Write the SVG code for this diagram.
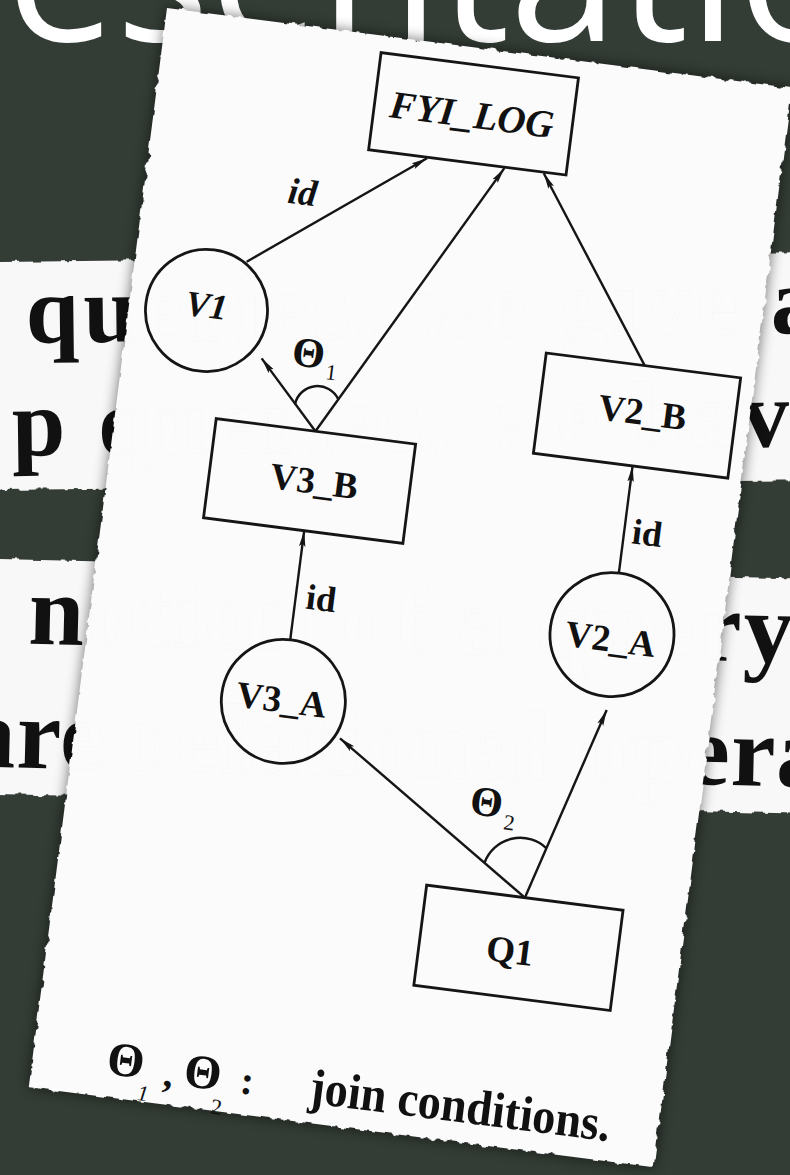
<svg xmlns="http://www.w3.org/2000/svg" width="790" height="1175" viewBox="0 0 790 1175">
  <defs>
    <style>
      .bg{fill:#333c35}
      .head{font-family:"Open Sans",sans-serif;font-size:196px;fill:#ffffff}
      .strip{fill:#f8f8f8}
      .stxt{font-family:"Liberation Serif",serif;font-weight:bold}
      .paper{fill:#fbfbfb}
      .box{fill:none;stroke:#151515;stroke-width:2.8}
      .edge{fill:none;stroke:#151515;stroke-width:2.4;marker-end:url(#ah)}
      .lbl{font-family:"Liberation Serif",serif;font-weight:bold;font-size:37px;fill:#111;text-anchor:middle}
      .it{font-style:italic}
      .greek{font-family:"Liberation Serif",serif;fill:#111;text-anchor:middle}
      .ghost{fill:none;stroke:#000;stroke-opacity:0.012;stroke-width:1.2}
    </style>
    <filter id="torn" x="-3%" y="-3%" width="106%" height="106%">
      <feTurbulence type="fractalNoise" baseFrequency="0.09" numOctaves="2" seed="7" result="noise"/>
      <feDisplacementMap in="SourceGraphic" in2="noise" scale="7" xChannelSelector="R" yChannelSelector="G"/>
    </filter>
    <filter id="shadow" x="-10%" y="-10%" width="120%" height="120%">
      <feGaussianBlur stdDeviation="7"/>
    </filter>
    <marker id="ah" markerUnits="userSpaceOnUse" markerWidth="18" markerHeight="10" refX="16" refY="4" orient="auto">
      <path d="M0,0.8 L16,4 L0,7.2 L3,4 Z" fill="#151515"/>
    </marker>
    <!-- text lines printed on the strips behind the sheet -->
    <text id="line1" class="stxt" x="25" y="81" font-size="96" textLength="793" lengthAdjust="spacing">queries, we give a</text>
    <text id="line2" class="stxt" x="10" y="194" font-size="96" textLength="824" lengthAdjust="spacing">p queries, we have</text>
    <text id="line3" class="stxt" x="30" y="84" font-size="100" textLength="765" lengthAdjust="spacing">notion of a query</text>
    <text id="line4" class="stxt" x="-30" y="208" font-size="100" textLength="1032" lengthAdjust="spacing">are relational operators</text>
  </defs>

  <rect class="bg" x="0" y="0" width="790" height="1175"/>

  <!-- heading, cropped at the top -->
  <text class="head" x="6" y="41">esentatio</text>

  <!-- upper strip -->
  <g id="strip-upper" transform="translate(0,262) rotate(-0.7)">
    <rect class="strip" x="-20" y="0" width="830" height="228" filter="url(#torn)"/>
    <use href="#line1" fill="#111"/>
    <use href="#line2" fill="#111"/>
  </g>

  <!-- lower strip -->
  <g id="strip-lower" transform="translate(0,559) rotate(1.4)">
    <rect class="strip" x="-20" y="0" width="830" height="235" filter="url(#torn)"/>
    <use href="#line3" fill="#111"/>
    <use href="#line4" fill="#111"/>
  </g>

  <!-- the sheet with the query graph -->
  <g id="sheet" transform="translate(167,8) rotate(7.3)">
    <rect x="0" y="0" width="630" height="1088" fill="#000" opacity="0.55" filter="url(#shadow)"/>
    <rect class="paper" x="0" y="0" width="630" height="1088" filter="url(#torn)"/>
  </g>

  <!-- faint show-through of the strip text -->
  <g id="show-through">
    <g transform="translate(0,262) rotate(-0.7)">
      <use href="#line1" class="ghost"/>
      <use href="#line2" class="ghost"/>
    </g>
    <g transform="translate(0,559) rotate(1.4)">
      <use href="#line3" class="ghost"/>
      <use href="#line4" class="ghost"/>
    </g>
  </g>

  <g id="diagram" transform="translate(167,8) rotate(7.3)">
    <g id="connectors">
      <line class="edge" x1="111.3" y1="241.5" x2="277" y2="116"/>
      <line class="edge" x1="201" y1="401" x2="355" y2="116"/>
      <line class="edge" x1="201" y1="401" x2="138.4" y2="335.5"/>
      <line class="edge" x1="519.3" y1="294" x2="394.7" y2="116"/>
      <line class="edge" x1="520" y1="503" x2="520" y2="395"/>
      <line class="edge" x1="202.5" y1="611" x2="202.5" y2="501"/>
      <line class="edge" x1="468" y1="837" x2="264.4" y2="702.4"/>
      <line class="edge" x1="468" y1="837" x2="525.3" y2="640.4"/>
      <!-- join-condition arcs -->
      <path d="M177.3,376.7 A23,23 0 0,1 219.6,366.3" fill="none" stroke="#151515" stroke-width="2.4"/>
      <path d="M423.7,806.9 A38,38 0 0,1 482.9,785.1" fill="none" stroke="#151515" stroke-width="2.4"/>
      <!-- edge labels -->
      <text class="lbl it" x="158" y="178" font-size="36">id</text>
      <text class="lbl" x="228" y="578" style="font-size:36px">id</text>
      <text class="lbl" x="543" y="472" style="font-size:36px">id</text>
      <text class="greek" x="184.5" y="338" font-size="42" font-weight="bold">Θ</text>
      <text class="greek" x="209" y="348" font-size="22">1</text>
      <text class="greek" x="418" y="761" font-size="42" font-weight="bold">Θ</text>
      <text class="greek" x="443" y="772" font-size="22">2</text>
    </g>

    <g id="node-fyi-log">
      <rect class="box" x="218" y="17" width="199" height="98"/>
      <text class="lbl it" x="316" y="80" style="font-size:39px">FYI_LOG</text>
    </g>
    <g id="node-v1">
      <circle class="box" cx="77.6" cy="295" r="61"/>
      <text class="lbl it" x="77" y="302" style="font-size:36px">V1</text>
    </g>
    <g id="node-v3-b">
      <rect class="box" x="101" y="401" width="201" height="100"/>
      <text class="lbl" x="206" y="463">V3_B</text>
    </g>
    <g id="node-v2-b">
      <rect class="box" x="420" y="294" width="196" height="101"/>
      <text class="lbl" x="523" y="353">V2_B</text>
    </g>
    <g id="node-v3-a">
      <circle class="box" cx="203.5" cy="673" r="62"/>
      <text class="lbl" x="201.5" y="684">V3_A</text>
    </g>
    <g id="node-v2-a">
      <circle class="box" cx="521" cy="565" r="62"/>
      <text class="lbl" x="520" y="582">V2_A</text>
    </g>
    <g id="node-q1">
      <rect class="box" x="369" y="837" width="198" height="101"/>
      <text class="lbl" x="460" y="904">Q1</text>
    </g>

    <g id="caption">
      <text class="greek" x="93" y="1065" font-size="48" font-weight="bold">Θ</text>
      <text class="greek it" x="114" y="1087" font-size="22">1</text>
      <text class="greek" x="137" y="1070" font-size="40" font-weight="bold">,</text>
      <text class="greek" x="171" y="1067" font-size="48" font-weight="bold">Θ</text>
      <text class="greek" x="188.5" y="1091" font-size="22">2</text>
      <text class="greek" x="216" y="1067" font-size="40" font-weight="bold">:</text>
      <text x="279" y="1068" font-family="Liberation Serif, serif" font-weight="bold" font-size="50" fill="#111" textLength="303" lengthAdjust="spacingAndGlyphs">join conditions.</text>
    </g>
  </g>
</svg>
